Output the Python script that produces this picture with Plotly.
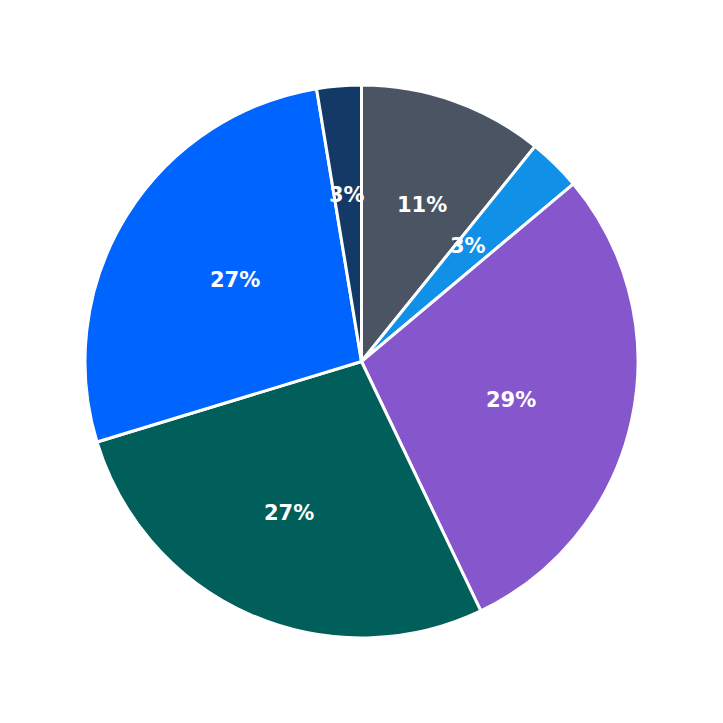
import math
import plotly.graph_objects as go

labels = ["A", "B", "C", "D", "E", "F"]
values = [10.8, 3.1, 29.0, 27.4, 27.1, 2.6]
colors = ["#4a5462", "#1190e8", "#8657cc", "#005e5b", "#0064fe", "#133a66"]

W = H = 723
L, T, R, B = 77, 77, 93, 93
fig = go.Figure(go.Pie(
    labels=labels, values=values, sort=False, direction="clockwise", rotation=0,
    marker=dict(colors=colors, line=dict(color="white", width=3)),
    textinfo="none", showlegend=False, hoverinfo="label+percent",
))

# labels at a fixed fraction of the radius, at each slice's middle angle
total = sum(values)
cx, cy = 0.5, 0.5
rad_px = (W - L - R) / 2
plot_w, plot_h = W - L - R, H - T - B
cum = 0
anns = []
for v in values:
    mid = (cum + v / 2) / total * 2 * math.pi
    cum += v
    r = 0.655 * rad_px
    x = cx + r * math.sin(mid) / plot_w
    y = cy + r * math.cos(mid) / plot_h
    anns.append(dict(x=x, y=y, xref="paper", yref="paper", showarrow=False,
                     text=f"{round(v / total * 100)}%",
                     font=dict(family="DejaVu Sans", size=21, color="white", weight="bold")))

fig.update_layout(width=W, height=H, margin=dict(l=L, r=R, t=T, b=B),
                  paper_bgcolor="white", annotations=anns)
fig.write_html("out.html")
